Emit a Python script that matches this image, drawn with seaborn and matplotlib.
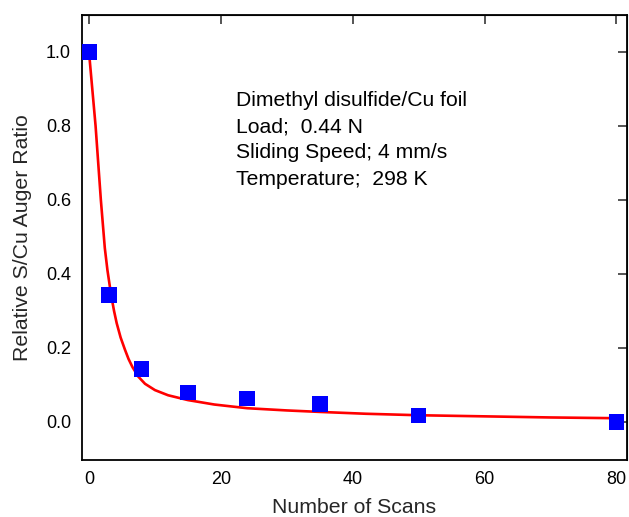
import matplotlib
matplotlib.use("Agg")
import matplotlib.pyplot as plt
import seaborn as sns
import pandas as pd

# Measured S/Cu Auger ratios versus number of scans
scans = [0, 3, 8, 15, 24, 35, 50, 80]
ratio = [1.0, 0.343, 0.143, 0.080, 0.063, 0.049, 0.017, 0.0]

# Fitted decay curve
fit_x = [0, 0.5, 1.0, 1.4, 1.8, 2.1, 2.4, 2.8, 3.34, 3.8, 4.2, 4.8, 5.46,
         6.0, 6.6, 7.5, 8.5, 10, 12, 15, 19, 24, 30, 35, 42, 50, 60, 70, 80]
fit_y = [1.0, 0.90, 0.80, 0.70, 0.60, 0.535, 0.47, 0.41, 0.345, 0.30, 0.267,
         0.228, 0.195, 0.170, 0.148, 0.122, 0.103, 0.086, 0.072, 0.059, 0.047,
         0.037, 0.031, 0.027, 0.022, 0.018, 0.015, 0.012, 0.010]

xticks = [0, 20, 40, 60, 80]
yticks = [0.0, 0.2, 0.4, 0.6, 0.8, 1.0]

info_lines = ["Dimethyl disulfide/Cu foil",
              "Load;  0.44 N",
              "Sliding Speed; 4 mm/s",
              "Temperature;  298 K"]

sns.set_style("white")
plt.rcParams["font.family"] = ["Liberation Sans", "DejaVu Sans"]

fig = plt.figure(figsize=(6.29, 5.17), dpi=100)
ax = fig.add_axes([82 / 629, 1 - 460 / 517, 545 / 629, 445 / 517])

data = pd.DataFrame({"scans": scans, "ratio": ratio})
fit = pd.DataFrame({"x": fit_x, "y": fit_y})

sns.lineplot(data=fit, x="x", y="y", ax=ax, color="#ff0000", linewidth=1.9,
             sort=False, estimator=None, zorder=2)
sns.scatterplot(data=data, x="scans", y="ratio", ax=ax, marker="s", s=125,
                color="#0000ff", edgecolor="none", linewidth=0, zorder=3)

ax.set_xlim(-1.06, 81.6)
ax.set_ylim(-0.103, 1.1)
ax.set_xticks(xticks)
ax.set_xticklabels([str(v) for v in xticks])
ax.set_yticks(yticks)
ax.set_yticklabels([f"{v:.1f}" for v in yticks])

for sp in ax.spines.values():
    sp.set_visible(True)
    sp.set_color("black")
    sp.set_linewidth(1.3)

ax.tick_params(axis="both", direction="out", length=5.5, width=1.1,
               labelsize=13, pad=2.5, colors="black")

# Mirror ticks on top and right, pointing inward
top = ax.secondary_xaxis("top")
top.set_xticks(xticks)
top.tick_params(direction="in", length=6.5, width=1.1, labeltop=False)
right = ax.secondary_yaxis("right")
right.set_yticks(yticks)
right.tick_params(direction="in", length=6.5, width=1.1, labelright=False)

ax.set_xlabel("Number of Scans", fontsize=15.3, labelpad=7)
ax.set_ylabel("Relative S/Cu Auger Ratio", fontsize=15.3, labelpad=10)

for i, line in enumerate(info_lines):
    ax.text(236 / 629, 1 - (101 + 26 * i) / 517, line, transform=fig.transFigure,
            fontsize=15.2, ha="left", va="center", color="black")

ax.grid(False)
fig.savefig("out.png", dpi=100)
